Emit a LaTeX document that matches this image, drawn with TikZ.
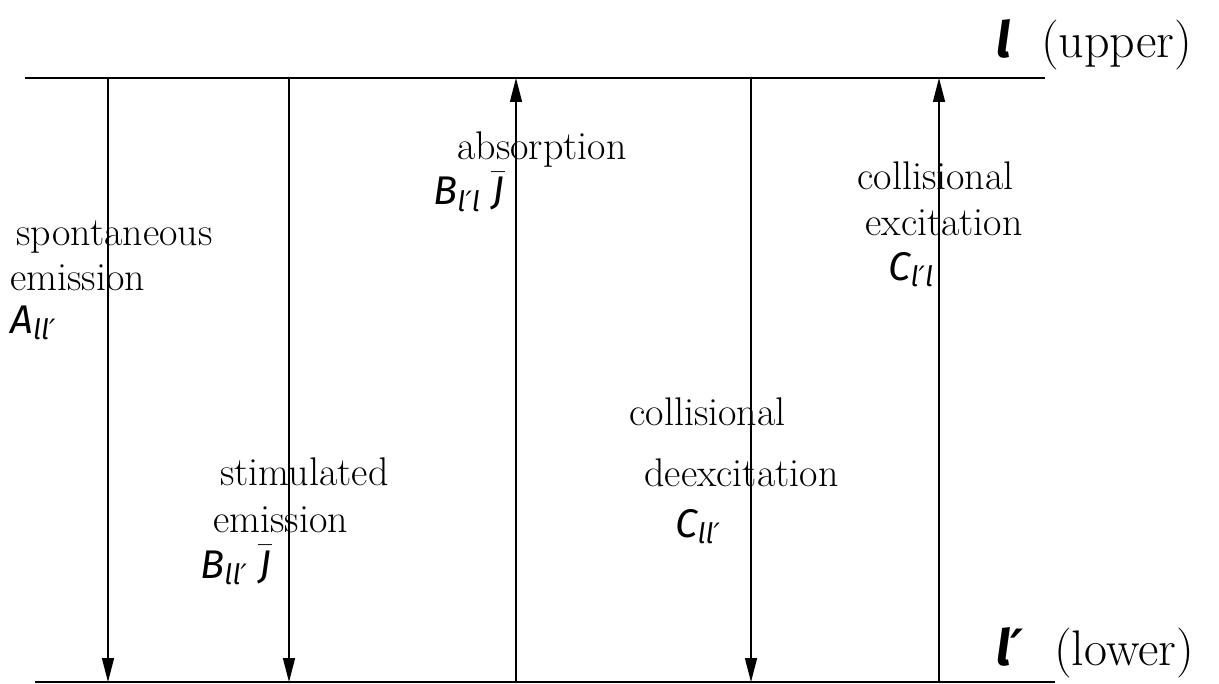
\documentclass[tikz,border=0pt]{standalone}
\usepackage{fontspec}
\usetikzlibrary{arrows.meta}
\newfontfamily\symfont{Fira Sans}
\newfontfamily\primefont{DejaVu Sans}
\newcommand\pr{{\primefont ′}}
\newcommand\msym[1]{{\symfont\itshape #1}}
\newcommand\msub[1]{\raisebox{-0.4ex}{\symfont\itshape\fontsize{14}{14}\selectfont #1}}
\newcommand\Jbar{\ensuremath{\bar{\hbox{\symfont\itshape J}}}}
\begin{document}
\begin{tikzpicture}[x=0.5pt,y=-0.5pt,
  lbl/.style={anchor=base west,inner sep=0pt,font=\fontsize{20}{24}\selectfont},
  lvl/.style={anchor=base west,inner sep=0pt,font=\fontsize{25}{30}\selectfont},
  level/.style={line width=0.75pt},
  trans/.style={line width=0.75pt,-{Triangle[length=12pt,width=6pt]}}]
\useasboundingbox (0,0) rectangle (1219,684);
% levels
\coordinate (uL) at (25,78);  \coordinate (uR) at (1045,78);
\coordinate (lL) at (35,682); \coordinate (lR) at (1055,682);
\draw[level] (uL) -- (uR);
\draw[level] (lL) -- (lR);
% transition end points
\foreach \n/\x in {a/108,b/289,c/516,d/751,e/939}{
  \coordinate (\n t) at (\x,78);
  \coordinate (\n b) at (\x,682);
}
\draw[trans] (at) -- (ab);
\draw[trans] (bt) -- (bb);
\draw[trans] (cb) -- (ct);
\draw[trans] (dt) -- (db);
\draw[trans] (eb) -- (et);
% labels
\node[lvl] (up) at (996,58) {\msym{\bfseries l}\ \ (upper)};
\node[lvl] (lo) at (996,665) {\msym{\bfseries l\pr}\ \ (lower)};
\node[lbl] (sp1) at (16,245) {spontaneous};
\node[lbl] (sp2) at (10,290) {emission};
\node[lbl] (sp3) at (10,333) {\msym{A}\msub{ll\pr}};
\node[lbl] (st1) at (220,485) {stimulated};
\node[lbl] (st2) at (213,532) {emission};
\node[lbl] (st3) at (200,578) {\msym{B}\msub{ll\pr}\ \Jbar};
\node[lbl] (ab1) at (457,160) {absorption};
\node[lbl] (ab2) at (433,205) {\msym{B}\msub{l\pr l}\ \Jbar};
\node[lbl] (cd1) at (629,425) {collisional};
\node[lbl] (cd2) at (644,486) {deexcitation};
\node[lbl] (cd3) at (675,537) {\msym{C}\msub{ll\pr}};
\node[lbl] (ce1) at (857,190) {collisional};
\node[lbl] (ce2) at (865,235) {excitation};
\node[lbl] (ce3) at (888,280) {\msym{C}\msub{l\pr l}};
\end{tikzpicture}
\end{document}
